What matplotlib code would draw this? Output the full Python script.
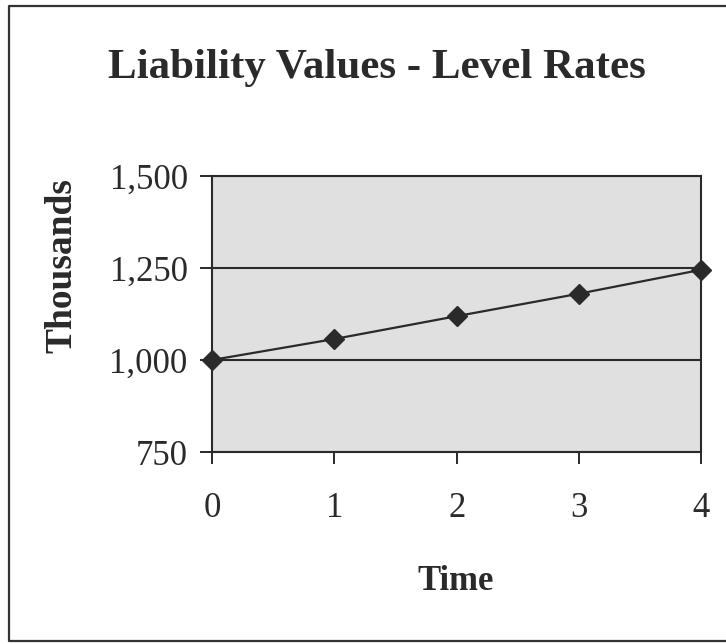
import matplotlib
matplotlib.use("Agg")
import matplotlib.pyplot as plt
from matplotlib.lines import Line2D

# values (thousands)
time = [0, 1, 2, 3, 4]
liability = [1000, 1057, 1119, 1180, 1245]
yticks = [750, 1000, 1250, 1500]
ytick_labels = ["750", "1,000", "1,250", "1,500"]

plt.rcParams['font.family'] = ['Liberation Serif', 'DejaVu Serif']
ink = '#2a2a2a'

fig = plt.figure(figsize=(7.26, 6.44), dpi=100)
ax = fig.add_axes([0.292, 0.298, 0.674, 0.429])
ax.set_facecolor('#e0e0e0')

ax.plot(time, liability, color=ink, linewidth=1.6, marker='D', markersize=10,
        markerfacecolor=ink, markeredgecolor=ink, clip_on=False, zorder=5)

ax.set_xlim(0, 4)
ax.set_ylim(750, 1500)
ax.set_xticks(time)
ax.set_yticks(yticks)
ax.set_yticklabels(ytick_labels)

ax.yaxis.grid(True, color=ink, linewidth=1.5)
ax.set_axisbelow(True)

for s in ax.spines.values():
    s.set_color(ink)
    s.set_linewidth(1.5)

ax.tick_params(axis='y', direction='out', length=8.5, width=1.4, color=ink,
               labelsize=25, labelcolor=ink, pad=9)
ax.tick_params(axis='x', direction='out', length=8.5, width=1.4, color=ink,
               labelsize=25, labelcolor=ink, pad=20)

fig.text(0.519, 0.894, "Liability Values - Level Rates", ha='center', va='center',
         fontsize=31, fontweight='bold', color=ink)
fig.text(0.086, 0.588, "Thousands", ha='center', va='center', rotation=90,
         fontsize=27, fontweight='bold', color=ink)
fig.text(0.628, 0.097, "Time", ha='center', va='center',
         fontsize=25, fontweight='bold', color=ink)

# outer frame (right edge is cut off in the original)
x0, x1, y0, y1 = 9 / 726, 1.01, 1 - 641 / 644, 1 - 6 / 644
fig.add_artist(Line2D([x1, x0, x0, x1], [y1, y1, y0, y0], transform=fig.transFigure,
                      color='#333333', linewidth=1.6))

fig.savefig("out.png", dpi=100)
